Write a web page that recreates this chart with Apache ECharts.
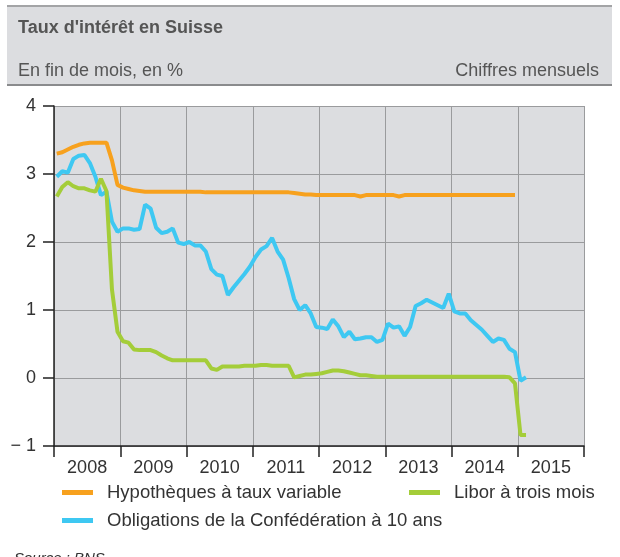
<!DOCTYPE html>
<html>
<head>
<meta charset="utf-8">
<script src="https://cdn.jsdelivr.net/npm/echarts@6/dist/echarts.min.js"></script>
<style>
  html, body { margin: 0; padding: 0; background: #fff; }
  #chart { width: 620px; height: 557px; }
</style>
</head>
<body>
<div id="chart"></div>
<script>
// monthly values, Jan 2008 .. Feb 2015 (end of month, %)
const years = ['2008', '2009', '2010', '2011', '2012', '2013', '2014', '2015'];
const startYear = 2008;

const hypotheques = [
  3.30, 3.32, 3.36, 3.40, 3.43, 3.45, 3.46, 3.46, 3.46, 3.46, 3.20, 2.84,
  2.80, 2.78, 2.76, 2.75, 2.74, 2.74, 2.74, 2.74, 2.74, 2.74, 2.74, 2.74,
  2.74, 2.74, 2.74, 2.73, 2.73, 2.73, 2.73, 2.73, 2.73, 2.73, 2.73, 2.73,
  2.73, 2.73, 2.73, 2.73, 2.73, 2.73, 2.73, 2.72, 2.71, 2.70, 2.70, 2.69,
  2.69, 2.69, 2.69, 2.69, 2.69, 2.69, 2.69, 2.67, 2.69, 2.69, 2.69, 2.69,
  2.69, 2.69, 2.67, 2.69, 2.69, 2.69, 2.69, 2.69, 2.69, 2.69, 2.69, 2.69,
  2.69, 2.69, 2.69, 2.69, 2.69, 2.69, 2.69, 2.69, 2.69, 2.69, 2.69, 2.69
];

const obligations = [
  2.96, 3.04, 3.02, 3.22, 3.27, 3.28, 3.16, 2.96, 2.69, 2.74, 2.30, 2.15,
  2.20, 2.20, 2.18, 2.19, 2.55, 2.49, 2.21, 2.13, 2.15, 2.20, 1.99, 1.97,
  2.00, 1.95, 1.95, 1.86, 1.60, 1.52, 1.50, 1.22, 1.33, 1.43, 1.53, 1.64,
  1.78, 1.89, 1.94, 2.06, 1.86, 1.74, 1.47, 1.16, 1.00, 1.07, 0.95, 0.75,
  0.74, 0.72, 0.86, 0.76, 0.60, 0.68, 0.57, 0.58, 0.60, 0.60, 0.53, 0.56,
  0.80, 0.74, 0.76, 0.62, 0.75, 1.06, 1.10, 1.15, 1.11, 1.07, 1.03, 1.24,
  0.98, 0.95, 0.95, 0.85, 0.78, 0.71, 0.62, 0.53, 0.58, 0.56, 0.43, 0.38,
  -0.04, 0.01
];

const libor = [
  2.67, 2.81, 2.88, 2.82, 2.79, 2.79, 2.76, 2.74, 2.93, 2.75, 1.30, 0.68,
  0.54, 0.52, 0.42, 0.41, 0.41, 0.41, 0.38, 0.33, 0.29, 0.26, 0.26, 0.26,
  0.26, 0.26, 0.26, 0.26, 0.14, 0.12, 0.17, 0.17, 0.17, 0.17, 0.18, 0.18,
  0.18, 0.19, 0.19, 0.18, 0.18, 0.18, 0.18, 0.01, 0.03, 0.05, 0.05, 0.06,
  0.07, 0.09, 0.11, 0.11, 0.10, 0.08, 0.06, 0.04, 0.04, 0.03, 0.02, 0.02,
  0.02, 0.02, 0.02, 0.02, 0.02, 0.02, 0.02, 0.02, 0.02, 0.02, 0.02, 0.02,
  0.02, 0.02, 0.02, 0.02, 0.02, 0.02, 0.02, 0.02, 0.02, 0.02, 0.01, -0.08,
  -0.84, -0.84
];

const yTicks = [-1, 0, 1, 2, 3, 4];

const font = '"Liberation Sans", Arial, sans-serif';
const colors = { hyp: '#f7a11e', obl: '#3ec8f2', lib: '#a4cd39' };

// month index -> decimal year (middle of month)
function toPoints(values) {
  return values.map((v, i) => [startYear + (i + 0.5) / 12, v]);
}

const chart = echarts.init(document.getElementById('chart'), null, { renderer: 'canvas' });

const option = {
  animation: false,
  textStyle: { fontFamily: font },
  graphic: [
    { type: 'rect', shape: { x: 7, y: 6, width: 605, height: 79 }, style: { fill: '#dcdde0' }, z: -10 },
    { type: 'line', shape: { x1: 7, y1: 6, x2: 612, y2: 6 }, style: { stroke: '#a3a4a6', lineWidth: 2 } },
    { type: 'line', shape: { x1: 7, y1: 85, x2: 612, y2: 85 }, style: { stroke: '#8a8b8d', lineWidth: 2 } }
  ],
  title: [
    { text: "Taux d'intérêt en Suisse", left: 13, top: 14,
      textStyle: { fontFamily: font, fontSize: 18, fontWeight: 'bold', color: '#555' } },
    { text: 'En fin de mois, en %', left: 13, top: 57,
      textStyle: { fontFamily: font, fontSize: 18, fontWeight: 'normal', color: '#555' } },
    { text: 'Chiffres mensuels', right: 16, top: 57,
      textStyle: { fontFamily: font, fontSize: 18, fontWeight: 'normal', color: '#555' } },
    { text: 'Source : BNS', left: 9, top: 546,
      textStyle: { fontFamily: font, fontSize: 15, fontWeight: 'normal', fontStyle: 'italic', color: '#333' } }
  ],
  legend: [
    { data: ['Hypothèques à taux variable'], left: 62, top: 483 },
    { data: ['Libor à trois mois'], left: 409, top: 483 },
    { data: ['Obligations de la Confédération à 10 ans'], left: 62, top: 511 }
  ].map(l => Object.assign(l, {
    icon: 'rect', itemWidth: 31, itemHeight: 5, padding: 0,
    textStyle: { fontFamily: font, fontSize: 18.5, color: '#333', padding: [0, 0, 0, 9] }
  })),
  grid: {
    left: 54, top: 106, right: 36, bottom: 111,
    show: true, backgroundColor: '#dcdde0', borderWidth: 0
  },
  xAxis: [
    {
      type: 'value', min: 2008, max: 2016, interval: 1,
      axisLine: { show: false }, axisTick: { show: false }, axisLabel: { show: false },
      splitLine: { show: true, lineStyle: { color: '#9a9b9d', width: 1 } }
    },
    {
      type: 'category', data: years, position: 'bottom', offset: 0, boundaryGap: true,
      axisLine: { show: true, lineStyle: { color: '#222', width: 1.5 } },
      axisTick: { show: true, length: 11, lineStyle: { color: '#222', width: 1.5 } },
      axisLabel: { fontFamily: font, fontSize: 18, color: '#333', margin: 13 },
      splitLine: { show: false }
    }
  ],
  yAxis: {
    type: 'value', min: yTicks[0], max: yTicks[yTicks.length - 1], interval: 1,
    axisLine: { show: true, lineStyle: { color: '#222', width: 1.5 } },
    axisTick: { show: true, length: 11, lineStyle: { color: '#222', width: 1.5 } },
    axisLabel: {
      fontFamily: font, fontSize: 18, color: '#333', margin: 18,
      formatter: v => (v < 0 ? '− ' + Math.abs(v) : String(v))
    },
    splitLine: { show: true, lineStyle: { color: '#9a9b9d', width: 1 } }
  },
  series: [
    { name: 'Hypothèques à taux variable', type: 'line', xAxisIndex: 0, data: toPoints(hypotheques),
      symbol: 'none', color: colors.hyp, lineStyle: { width: 4, color: colors.hyp }, z: 3 },
    { name: 'Obligations de la Confédération à 10 ans', type: 'line', xAxisIndex: 0, data: toPoints(obligations),
      symbol: 'none', color: colors.obl, lineStyle: { width: 4, color: colors.obl }, z: 3 },
    { name: 'Libor à trois mois', type: 'line', xAxisIndex: 0, data: toPoints(libor),
      symbol: 'none', color: colors.lib, lineStyle: { width: 4, color: colors.lib }, z: 4 }
  ]
};

chart.setOption(option);
</script>
</body>
</html>
